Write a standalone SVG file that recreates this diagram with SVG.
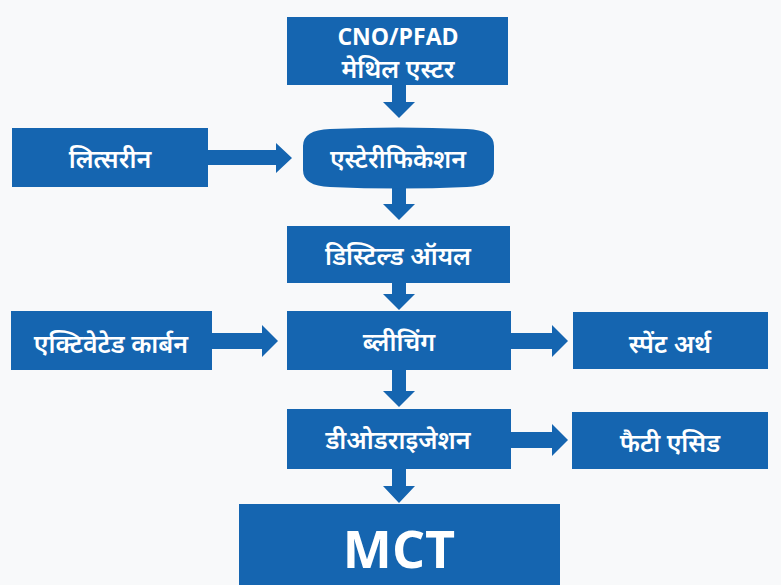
<svg xmlns="http://www.w3.org/2000/svg" width="781" height="585" viewBox="0 0 781 585">
<style>
.box{fill:#1565b0;}
.arr{fill:#1565b0;}
.t{fill:#ffffff;font-family:"Noto Sans Devanagari","Noto Sans",sans-serif;font-weight:600;font-size:25px;text-anchor:middle;}
.lat{fill:#ffffff;font-family:"Open Sans","Noto Sans",sans-serif;font-weight:700;text-anchor:middle;}
</style>
<rect width="781" height="585" fill="#f8f9fa"/>
<g id="connectors">
<path class="arr" d="M392,85 H406 V102 H415 L399,118 L383,102 H392 Z"/>
<path class="arr" d="M208,150 H276 V143 L292,158 L276,173 V165 H208 Z"/>
<path class="arr" d="M392,188 H406 V204 H415 L399,220 L383,204 H392 Z"/>
<path class="arr" d="M392,283 H406 V294 H415 L399,310 L383,294 H392 Z"/>
<path class="arr" d="M212,333 H262 V325 L278,341 L262,357 V349 H212 Z"/>
<path class="arr" d="M511,333 H552 V325 L568,341 L552,357 V349 H511 Z"/>
<path class="arr" d="M392,370 H406 V391 H415 L399,407 L383,391 H392 Z"/>
<path class="arr" d="M511,432 H552 V424 L568,440 L552,456 V448 H511 Z"/>
<path class="arr" d="M392,469 H406 V486 H415 L399,503 L383,486 H392 Z"/>
</g>
<g id="node-cno">
<rect class="box" x="287" y="17" width="221" height="68"/>
<text class="lat" x="398" y="45" font-size="23">CNO/PFAD</text>
<text class="t" x="398" y="78">मेथिल एस्टर</text>
</g>
<g id="node-glycerin">
<rect class="box" x="12" y="128" width="196" height="59"/>
<text class="t" x="110" y="168">लित्सरीन</text>
</g>
<g id="node-esterification">
<path class="box" d="M303,146 Q303,130 330,129 Q398,126 467,129 Q494,130 494,146 L494,170 Q494,186 467,187 Q398,190 330,187 Q303,186 303,170 Z"/>
<text class="t" x="398" y="168">एस्टेरीफिकेशन</text>
</g>
<g id="node-distilled">
<rect class="box" x="287" y="226" width="223" height="57"/>
<text class="t" x="398" y="265">डिस्टिल्ड ऑयल</text>
</g>
<g id="node-carbon">
<rect class="box" x="11" y="311" width="201" height="59"/>
<text class="t" x="111" y="353">एक्टिवेटेड कार्बन</text>
</g>
<g id="node-bleaching">
<rect class="box" x="287" y="311" width="224" height="59"/>
<text class="t" x="399" y="351">ब्लीचिंग</text>
</g>
<g id="node-spent">
<rect class="box" x="573" y="312" width="195" height="57"/>
<text class="t" x="670" y="353">स्पेंट अर्थ</text>
</g>
<g id="node-deodor">
<rect class="box" x="287" y="409" width="224" height="60"/>
<text class="t" x="398" y="449">डीओडराइजेशन</text>
</g>
<g id="node-fatty">
<rect class="box" x="572" y="412" width="196" height="57"/>
<text class="t" x="670" y="452">फैटी एसिड</text>
</g>
<g id="node-mct">
<rect class="box" x="239" y="504" width="321" height="81"/>
<text class="lat" x="399" y="568" font-size="52">MCT</text>
</g>
</svg>
